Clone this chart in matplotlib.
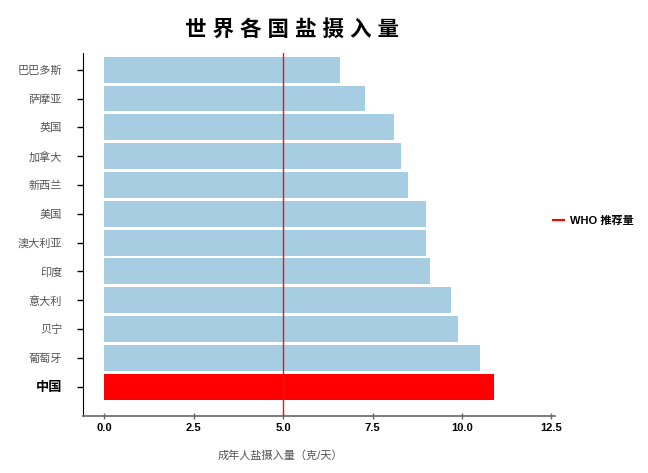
import matplotlib.pyplot as plt
from matplotlib.lines import Line2D

plt.rcParams['font.family'] = ['Liberation Sans', 'Noto Sans CJK SC', 'DejaVu Sans']

countries = ['中国', '葡萄牙', '贝宁', '意大利', '印度', '澳大利亚', '美国',
             '新西兰', '加拿大', '英国', '萨摩亚', '巴巴多斯']
salt = [10.9, 10.5, 9.9, 9.7, 9.1, 9.0, 9.0, 8.5, 8.3, 8.1, 7.3, 6.6]
who_level = 5.0
xticks = [0.0, 2.5, 5.0, 7.5, 10.0, 12.5]

colors = ['#ff0000' if c == '中国' else '#a6cde2' for c in countries]

fig = plt.figure(figsize=(6.48, 4.73), dpi=100)
ax = fig.add_axes([83 / 648, 1 - 416 / 473, (555 - 83) / 648, (416 - 53) / 473])

ax.barh(range(len(countries)), salt, height=0.9, color=colors)
ax.axvline(who_level, color='#e01818', lw=1.0, zorder=3)

ax.set_xlim(-0.6, 12.6)
ax.set_ylim(-1.02, 11.58)
ax.set_yticks(range(len(countries)))
ax.set_yticklabels(countries, fontsize=8, color='#555555')
for lab in ax.get_yticklabels():
    if lab.get_text() == '中国':
        lab.set_fontsize(9.5)
        lab.set_fontweight('bold')
        lab.set_color('black')
ax.set_xticks(xticks)
ax.set_xticklabels(['%.1f' % t for t in xticks], fontsize=8, fontweight='bold')
ax.tick_params(axis='y', length=4, width=1, pad=11)
ax.tick_params(axis='x', direction='inout', length=4, width=1, color='#666666', pad=3)

ax.spines['top'].set_visible(False)
ax.spines['right'].set_visible(False)
ax.spines['left'].set_color('black')
ax.spines['bottom'].set_color('#666666')
ax.spines['bottom'].set_linewidth(1.2)

fig.text(292 / 648, 1 - 30 / 473, '世 界 各 国 盐 摄 入 量', ha='center', va='center',
         fontsize=15.5, fontweight='bold')
fig.text(280 / 648, 1 - 456 / 473, '成年人盐摄入量（克/天）', ha='center', va='center',
         fontsize=8, color='#555555')

handle = Line2D([], [], color='#ff0000', lw=1.5)
leg = fig.legend([handle], ['WHO 推荐量'], loc='center left',
                 bbox_to_anchor=(543 / 648, 1 - 221 / 473), frameon=False,
                 handlelength=1.0, handletextpad=0.5, prop={'size': 8, 'weight': 'bold'})

fig.savefig('out.png', dpi=100)
